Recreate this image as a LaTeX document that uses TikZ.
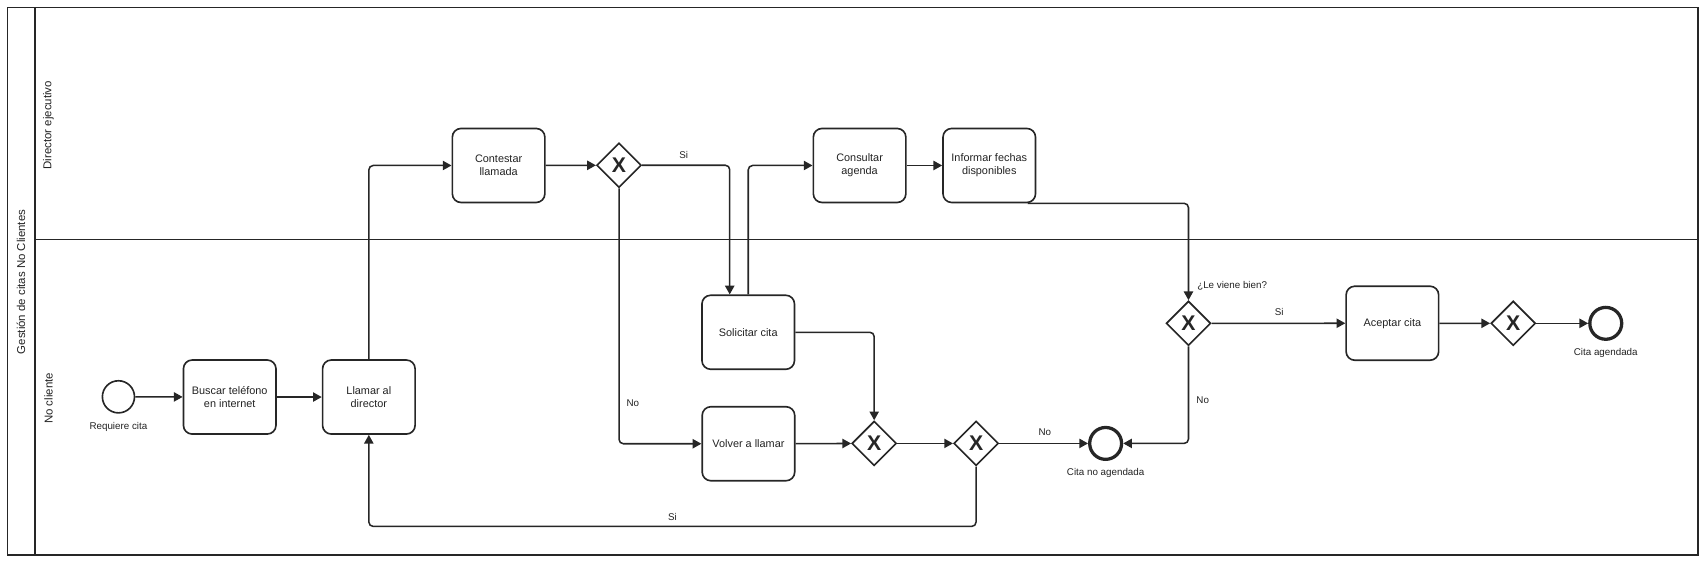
\documentclass[tikz,border=0pt]{standalone}
\usepackage{fontspec}
\setmainfont{Liberation Sans}
\usetikzlibrary{shapes.geometric,arrows.meta}
\definecolor{ink}{HTML}{262626}
\definecolor{txt}{HTML}{222222}
\begin{document}
\begin{tikzpicture}[x=1pt,y=-1pt,
  frame/.style={draw=ink,line width=1.6pt},
  lanelbl/.style={rotate=90,text=txt,font=\fontsize{10.5}{12}\selectfont},
  task/.style={draw=ink,line width=1.5pt,rounded corners=8pt,minimum width=85pt,minimum height=68pt,align=center,text=txt,font=\fontsize{10}{12.3}\selectfont,inner sep=2pt},
  gw/.style={diamond,aspect=1,draw=ink,fill=white,line width=1.5pt,minimum width=41pt,minimum height=41pt,inner sep=0pt,text=ink,font=\fontsize{19.5}{19.5}\selectfont\bfseries},
  startev/.style={circle,draw=ink,line width=1.5pt,minimum size=29.5pt,inner sep=0pt},
  endev/.style={circle,draw=ink,line width=3pt,minimum size=29.3pt,inner sep=0pt},
  lbl/.style={text=txt,font=\fontsize{9}{10}\selectfont,inner sep=0pt},
  flow/.style={draw=ink,line width=1.4pt,rounded corners=4pt,-{Triangle[length=8pt,width=8.5pt]}}
]
\useasboundingbox (0,0) rectangle (1568,514.4);
% pool and lanes
\draw[frame] (7,7) rectangle (1560,510);
\draw[frame] (32.4,7) -- (32.4,510);
\draw[frame] (32.4,220) -- (1560,220);
\node[lanelbl] (pool) at (19.3,259) {Gestión de citas No Clientes};
\node[lanelbl] (lane1) at (44.5,115) {Director ejecutivo};
\node[lanelbl] (lane2) at (44.5,366) {No cliente};
% events
\node[startev] (st) at (108.8,364.5) {};
\node[lbl] (stl) at (108.8,392) {Requiere cita};
\node[endev] (e2) at (1015.6,407.3) {};
\node[lbl] (e2l) at (1015.6,434.2) {Cita no agendada};
\node[endev] (e3) at (1475,297) {};
\node[lbl] (e3l) at (1475,324) {Cita agendada};
% tasks
\node[task] (bus) at (211,364.7) {Buscar teléfono\\en internet};
\node[task] (lla) at (338.8,364.7) {Llamar al\\director};
\node[task] (con) at (458,152) {Contestar\\llamada};
\node[task] (cns) at (789.6,152) {Consultar\\agenda};
\node[task] (inf) at (908.7,152) {Informar fechas\\disponibles};
\node[task] (sol) at (687.3,305.2) {Solicitar cita};
\node[task] (vol) at (687.5,407.6) {Volver a llamar};
\node[task] (acc) at (1279,296.9) {Aceptar cita};
% gateways
\node[gw] (g1) at (568.6,151.8) {X};
\node[gw] (g2) at (803,407.3) {X};
\node[gw] (g3) at (896.6,407.3) {X};
\node[gw] (g4) at (1091.7,297) {X};
\node[gw] (g5) at (1390,297) {X};
% flows
\draw[flow] (st) -- (bus);
\draw[flow] (bus) -- (lla);
\draw[flow] (lla.north) |- (con.west);
\draw[flow] (con) -- (g1);
\draw[flow] (g1.east) -| ([xshift=-17pt]sol.north);
\draw[flow] (sol.north) |- (cns.west);
\draw[flow] (cns) -- (inf);
\draw[flow] ([xshift=-8pt]inf.south east) -| (g4.north);
\draw[flow] (g1.south) |- (vol.west);
\draw[flow] (sol.east) -| (g2.north);
\draw[flow] (vol) -- (g2);
\draw[flow] (g2) -- (g3);
\draw[flow] (g3) -- (e2);
\draw[flow] (g3.south) -- ++(0,55) -| (lla.south);
\draw[flow] (g4) -- (acc);
\draw[flow] (g4.south) |- (e2.east);
\draw[flow] (acc) -- (g5);
\draw[flow] (g5) -- (e3);
% flow labels
\node[lbl] (lsi1) at (628,142) {Si};
\node[lbl] (lno1) at (581.3,370) {No};
\node[lbl] (lno2) at (959.7,397) {No};
\node[lbl] (lsi2) at (617.6,474.6) {Si};
\node[lbl,anchor=west] (lle) at (1099.6,262.7) {¿Le viene bien?};
\node[lbl] (lsi3) at (1175,287) {Si};
\node[lbl] (lno3) at (1104.8,368) {No};
\end{tikzpicture}
\end{document}
